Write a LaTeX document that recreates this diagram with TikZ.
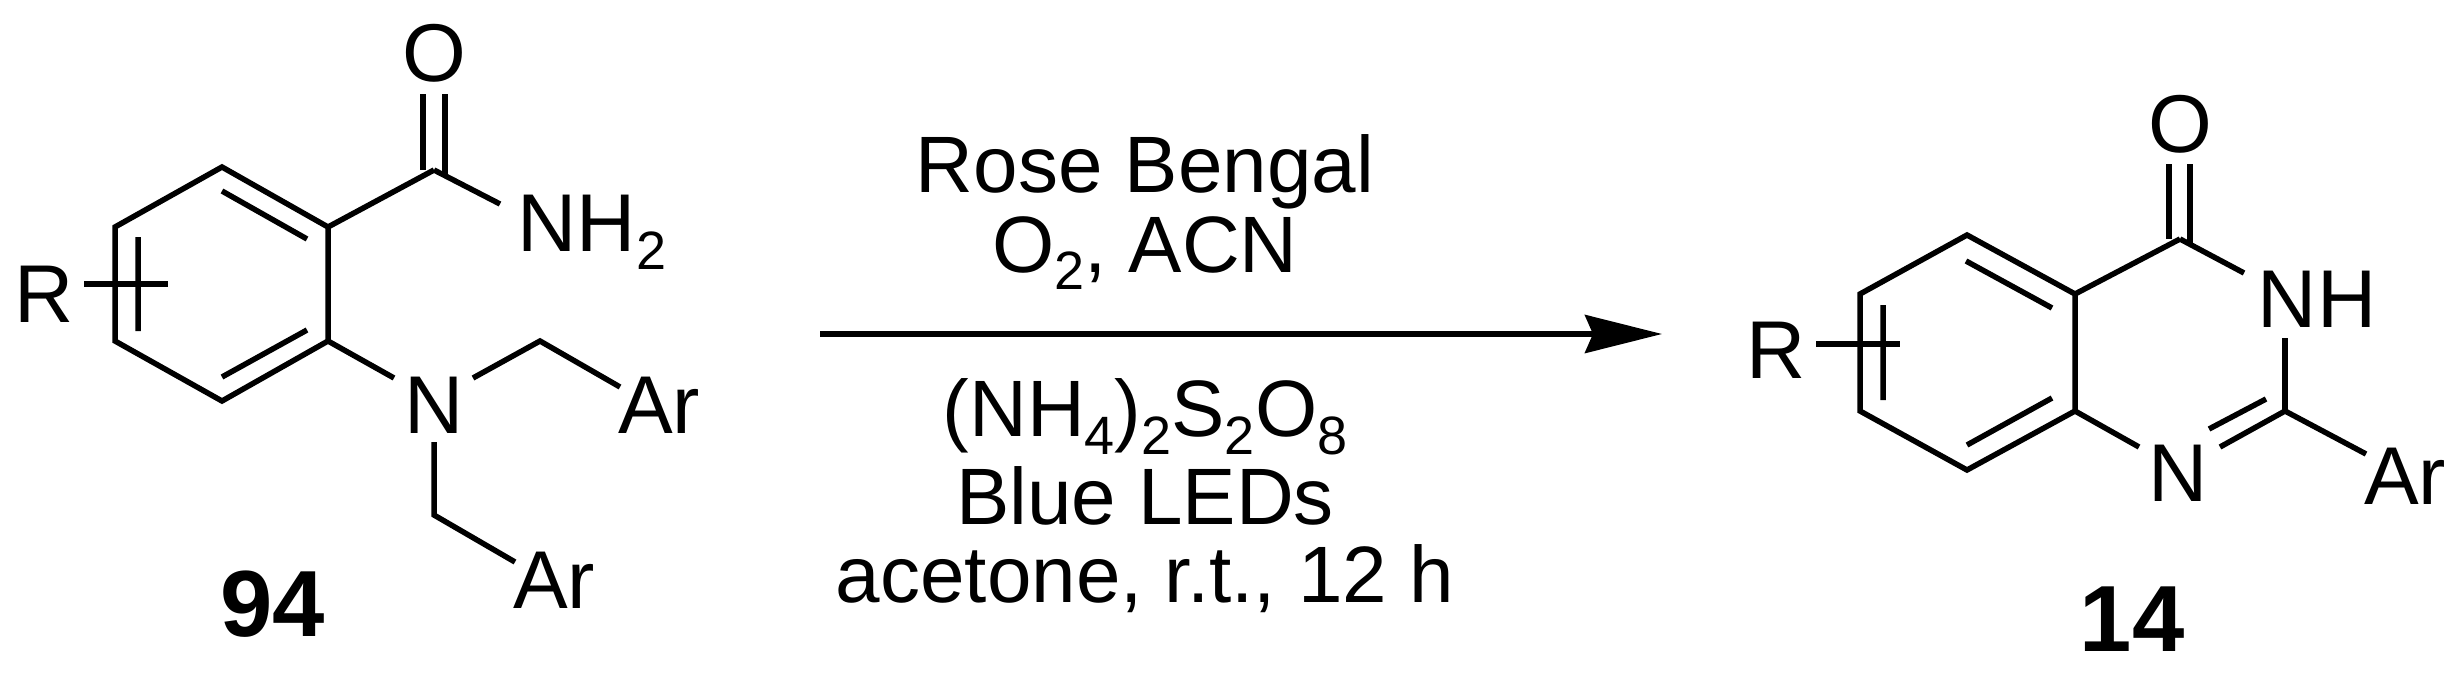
\documentclass[tikz,border=0pt]{standalone}
\usepackage{fontspec}
\setmainfont{Liberation Sans}
\usetikzlibrary{arrows.meta}
\newcommand{\sbs}[1]{\raisebox{-0.22em}{\fontsize{54}{60}\selectfont #1}}
\begin{document}
\begin{tikzpicture}[x=1pt,y=-1pt,line width=5.5pt,line cap=butt,line join=miter,
  lbl/.style={inner sep=0pt,font=\fontsize{82}{90}\selectfont},
  cmpd/.style={inner sep=0pt,font=\fontsize{94}{100}\selectfont\bfseries},
  cond/.style={inner sep=0pt,font=\fontsize{80}{90}\selectfont}]
\useasboundingbox (0,0) rectangle (2459,691);
% left molecule
\coordinate (a1) at (222,167); \coordinate (a2) at (328,227); \coordinate (a3) at (328,341);
\coordinate (a4) at (222,401); \coordinate (a5) at (115,341); \coordinate (a6) at (115,227);
\draw (a1)--(a2)--(a3)--(a4)--(a5)--(a6)--cycle;
\coordinate (i1) at (222,191); \coordinate (i2) at (307,239);
\coordinate (i3) at (307,330); \coordinate (i4) at (222,377);
\coordinate (i5) at (138,237); \coordinate (i6) at (138,331);
\draw (i1)--(i2) (i3)--(i4) (i5)--(i6);
\node[lbl] (R1) at (44,294) {R};
\coordinate (r1a) at (84,284); \coordinate (r1b) at (168,284);
\draw (r1a)--(r1b);
\coordinate (c1) at (434,170);
\draw (a2)--(c1);
\node[lbl] (O1) at (434,53) {O};
\coordinate (o1a) at (423,94); \coordinate (o1b) at (423,170);
\coordinate (o1c) at (445,94); \coordinate (o1d) at (445,176);
\draw (o1a)--(o1b) (o1c)--(o1d);
\node[lbl,anchor=west] (NH2) at (515,232) {NH\sbs{2}};
\coordinate (n1e) at (500,204);
\draw (c1)--(n1e);
\node[lbl] (N1) at (434,405) {N};
\coordinate (n1a) at (394,378); \draw (a3)--(n1a);
\coordinate (n1b) at (473,378); \coordinate (ch1) at (540,341); \coordinate (ar1e) at (620,387);
\draw (n1b)--(ch1)--(ar1e);
\node[lbl] (Ar1) at (659,405) {Ar};
\coordinate (n1c) at (434,442); \coordinate (ch2) at (434,515); \coordinate (ar2e) at (515,562);
\draw (n1c)--(ch2)--(ar2e);
\node[lbl] (Ar2) at (554,580) {Ar};
\node[cmpd] (c94) at (273,604) {94};
% arrow
\coordinate (arS) at (820,334); \coordinate (arE) at (1662,334);
\draw[-{Stealth[length=77pt,width=38pt,inset=8pt]}] (arS)--(arE);
\node[cond] (t1) at (1145,172) {Rose Bengal};
\node[cond] (t2) at (1145,253) {O\sbs{2}, ACN};
\node[cond] (t3) at (1145,417) {(NH\sbs{4})\sbs{2}S\sbs{2}O\sbs{8}};
\node[cond] (t4) at (1145,496) {Blue LEDs};
\node[cond] (t5) at (1145,579) {acetone, r.t., 12 h};
% right molecule
\coordinate (b1) at (1967,235); \coordinate (b2) at (2075,294); \coordinate (b3) at (2075,411);
\coordinate (b4) at (1967,470); \coordinate (b5) at (1860,411); \coordinate (b6) at (1860,294);
\draw (b1)--(b2)--(b3)--(b4)--(b5)--(b6)--cycle;
\coordinate (j1) at (1966,261); \coordinate (j2) at (2052,308);
\coordinate (j3) at (2052,398); \coordinate (j4) at (1967,445);
\coordinate (j5) at (1883,305); \coordinate (j6) at (1883,400);
\draw (j1)--(j2) (j3)--(j4) (j5)--(j6);
\node[lbl] (R2) at (1776,350) {R};
\coordinate (r2a) at (1816,344); \coordinate (r2b) at (1900,344);
\draw (r2a)--(r2b);
\coordinate (c2) at (2180,239);
\draw (b2)--(c2);
\node[lbl] (O2) at (2180,124) {O};
\coordinate (o2a) at (2169,164); \coordinate (o2b) at (2169,239);
\coordinate (o2c) at (2190,164); \coordinate (o2d) at (2190,245);
\draw (o2a)--(o2b) (o2c)--(o2d);
\coordinate (nh1) at (2244,273); \draw (c2)--(nh1);
\node[lbl] (NH) at (2317,299) {NH};
\coordinate (nh2) at (2285,338); \coordinate (c3) at (2285,411);
\draw (nh2)--(c3);
\coordinate (ar3e) at (2366,454); \draw (c3)--(ar3e);
\node[lbl] (Ar3) at (2405,476) {Ar};
\coordinate (n3a) at (2220,447); \draw (c3)--(n3a);
\coordinate (k1) at (2266,399); \coordinate (k2) at (2209,429); \draw (k1)--(k2);
\node[lbl] (N3) at (2178,473) {N};
\coordinate (n3b) at (2139,447); \draw (b3)--(n3b);
\node[cmpd] (c14) at (2132,619) {14};
\end{tikzpicture}
\end{document}
